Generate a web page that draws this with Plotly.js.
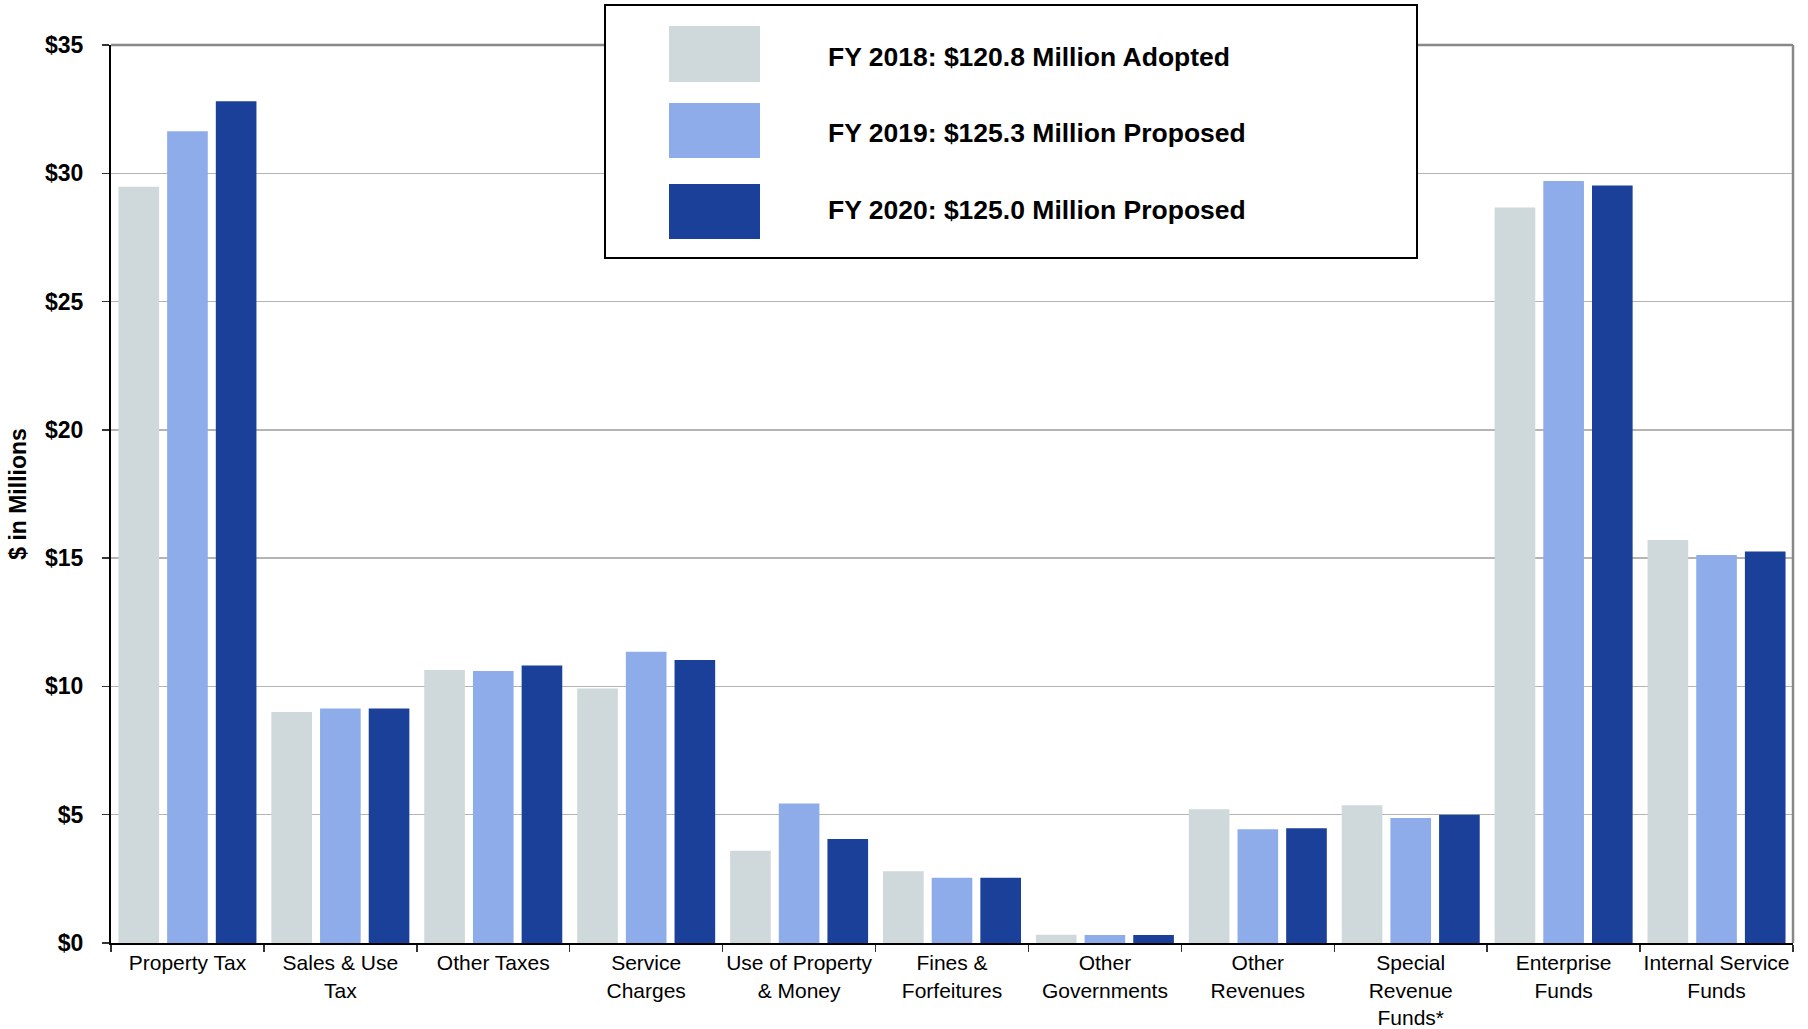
<!DOCTYPE html>
<html>
<head>
<meta charset="utf-8">
<script src="https://cdn.plot.ly/plotly-3.0.1.min.js"></script>
<style>html,body{margin:0;padding:0;background:#fff;}#chart{width:1808px;height:1029px;}</style>
</head>
<body>
<div id="chart"></div>
<script>
// ---- data ----
const categories = [
  "Property Tax", "Sales & Use<br>Tax", "Other Taxes", "Service<br>Charges",
  "Use of Property<br>& Money", "Fines &<br>Forfeitures", "Other<br>Governments",
  "Other<br>Revenues", "Special<br>Revenue<br>Funds*", "Enterprise<br>Funds",
  "Internal Service<br>Funds"
];
const seriesNames = [
  "FY 2018: $120.8 Million Adopted",
  "FY 2019: $125.3 Million Proposed",
  "FY 2020: $125.0 Million Proposed"
];
const fy2018 = [29.48, 9.00, 10.64, 9.92, 3.60, 2.80, 0.32, 5.21, 5.37, 28.67, 15.71];
const fy2019 = [31.64, 9.14, 10.60, 11.35, 5.44, 2.54, 0.31, 4.43, 4.87, 29.70, 15.12];
const fy2020 = [32.81, 9.14, 10.82, 11.03, 4.05, 2.54, 0.31, 4.47, 5.00, 29.52, 15.26];
const yTickVals = [0, 5, 10, 15, 20, 25, 30, 35];
const yTickText = ["$0", "$5", "$10", "$15", "$20", "$25", "$30", "$35"];
const yTitle = "$ in Millions";

// ---- styling ----
const colors = ["#CFD8DA", "#8FACEA", "#1B4099"];
const seriesValues = [fy2018, fy2019, fy2020];
const FONT = "Liberation Sans, Arial, sans-serif";

const W = 1808, H = 1029;
const M = {l: 111, r: 15, t: 45, b: 86};
const PW = W - M.l - M.r, PH = H - M.t - M.b;
const px = x => (x - M.l) / PW;
const py = y => (H - M.b - y) / PH;

const traces = seriesValues.map((vals, i) => ({
  type: "bar",
  x: categories,
  y: vals,
  name: seriesNames[i],
  marker: {color: colors[i], line: {width: 0}},
  hoverinfo: "x+y"
}));

const shapes = [
  // top and right gray frame
  {type: "line", xref: "paper", yref: "paper", x0: 0, x1: 1, y0: 1, y1: 1, line: {color: "#888888", width: 2.5}, layer: "above"},
  {type: "line", xref: "paper", yref: "paper", x0: 1, x1: 1, y0: 0, y1: 1, line: {color: "#888888", width: 2.5}, layer: "above"},
  // legend box
  {type: "rect", xref: "paper", yref: "paper", x0: px(605), x1: px(1417), y0: py(258), y1: py(5),
   fillcolor: "#ffffff", line: {color: "#000000", width: 2}, layer: "above"}
];
const swatchY = [[26, 82], [103, 158], [184, 239]];
const textY = [57, 133, 210];
const annotations = [];
seriesNames.forEach((n, i) => {
  shapes.push({type: "rect", xref: "paper", yref: "paper", x0: px(669), x1: px(760),
    y0: py(swatchY[i][1]), y1: py(swatchY[i][0]), fillcolor: colors[i], line: {width: 0}, layer: "above"});
  annotations.push({xref: "paper", yref: "paper", x: px(826), y: py(textY[i]), xanchor: "left", yanchor: "middle",
    text: "<b>" + n.replace(/\$/g, "&#36;") + "</b>", showarrow: false, font: {family: FONT, size: 26.5, color: "#000"}});
});

const layout = {
  width: W, height: H,
  margin: M,
  paper_bgcolor: "#ffffff",
  plot_bgcolor: "#ffffff",
  showlegend: false,
  barmode: "group",
  bargap: 0.045,
  bargroupgap: 0.165,
  font: {family: FONT, color: "#000"},
  xaxis: {
    type: "category",
    tickangle: 0,
    showline: true, linecolor: "#000", linewidth: 2,
    ticks: "outside", tickson: "boundaries", ticklen: 7, tickcolor: "#333", tickwidth: 1.5,
    tickfont: {family: FONT, size: 21, color: "#000"},
    showgrid: false, zeroline: false, fixedrange: true
  },
  yaxis: {
    range: [0, 35], tickvals: yTickVals, ticktext: yTickText,
    showline: true, linecolor: "#000", linewidth: 2,
    ticks: "outside", ticklen: 7, tickcolor: "#333", tickwidth: 1.5,
    ticklabelstandoff: 14,
    tickfont: {family: FONT, size: 23, color: "#000", weight: "bold"},
    showgrid: true, gridcolor: "#B4B4B4", gridwidth: 1.5,
    zeroline: false,
    title: {text: "<b>" + yTitle.replace(/\$/g, "&#36;") + "</b>", font: {family: FONT, size: 23, color: "#000"}, standoff: 12},
    fixedrange: true
  },
  shapes: shapes,
  annotations: annotations
};

Plotly.newPlot("chart", traces, layout, {displayModeBar: false, staticPlot: true});
</script>
</body>
</html>
